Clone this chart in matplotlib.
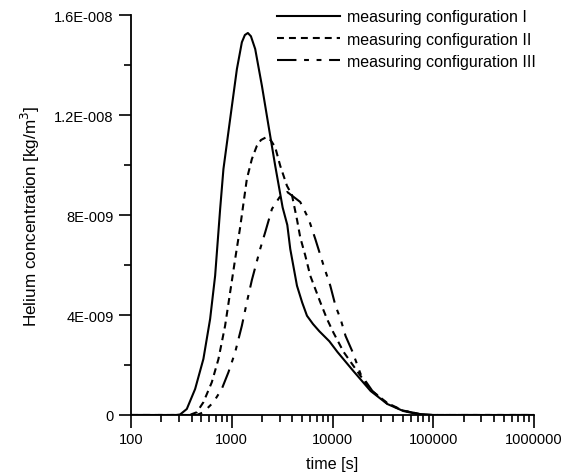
import numpy as np
import matplotlib
matplotlib.use("Agg")
import matplotlib.pyplot as plt
from matplotlib.ticker import LogLocator, FuncFormatter, FixedLocator, MultipleLocator

plt.rcParams['font.family'] = ['Liberation Sans', 'DejaVu Sans']
plt.rcParams['font.size'] = 10.5
plt.rcParams['lines.scale_dashes'] = False

# values (time in s, concentration in 1E-009 kg/m3)
t_I = [100, 280, 307, 358, 433, 523, 610, 684, 767, 827, 964, 1125, 1260, 1350, 1445,
       1550, 1709, 1992, 2317, 2700, 3200, 3560, 3808, 4440, 5000, 5580, 6400, 7400,
       9300, 11200, 16100, 23900, 35000, 50400, 69000, 100000, 1000000]
c_I = [0, 0, 0.02, 0.24, 1.04, 2.24, 3.84, 5.57, 8.24, 9.84, 11.84, 13.84, 14.91, 15.2,
       15.28, 15.15, 14.64, 13.17, 11.57, 9.97, 8.3, 7.6, 6.64, 5.17, 4.5, 3.97, 3.64,
       3.35, 2.95, 2.52, 1.76, 0.96, 0.44, 0.16, 0.04, 0, 0]

t_II = [100, 380, 450, 523, 634, 738, 859, 964, 1081, 1211, 1412, 1584, 1776, 1950,
        2197, 2450, 2700, 3027, 3530, 3958, 4450, 4786, 5350, 6017, 7570, 8820, 10200,
        12900, 17800, 24000, 35000, 50000, 75000, 100000, 1000000]
c_II = [0, 0, 0.11, 0.51, 1.31, 2.24, 3.57, 4.91, 6.24, 7.5, 9.44, 10.24, 10.77, 11.0,
        11.11, 10.98, 10.71, 9.97, 9.17, 8.8, 7.8, 7.1, 6.4, 5.57, 4.51, 3.84, 3.3,
        2.52, 1.72, 1.0, 0.48, 0.18, 0.03, 0, 0]

t_III = [100, 450, 523, 658, 796, 927, 1081, 1260, 1412, 1584, 1914, 2148, 2505, 2980,
         3556, 4786, 5800, 6750, 8170, 9510, 10720, 12020, 13480, 15830, 19000, 25000,
         35000, 50000, 75000, 100000, 1000000]
c_III = [0, 0, 0.11, 0.51, 1.04, 1.71, 2.51, 3.57, 4.51, 5.4, 6.64, 7.31, 8.24, 8.71,
         8.92, 8.52, 7.84, 7.04, 5.97, 5.17, 4.36, 3.84, 3.16, 2.52, 1.64, 0.95,
         0.45, 0.18, 0.03, 0, 0]

labels = ["measuring configuration I", "measuring configuration II",
          "measuring configuration III"]

fig = plt.figure(figsize=(5.76, 4.77), dpi=100)
ax = fig.add_axes([131 / 576, 1 - 416 / 477, 403 / 576, 400 / 477])

ax.plot(t_I, np.array(c_I) * 1e-9, color='black', lw=1.5, label=labels[0])
ax.plot(t_II, np.array(c_II) * 1e-9, color='black', lw=1.5, dashes=(5, 3.6),
        label=labels[1])
ax.plot(t_III, np.array(c_III) * 1e-9, color='black', lw=1.5,
        dashes=(14, 5.5, 3.5, 5.5, 3.5, 5.5), label=labels[2])

ax.set_xscale('log')
ax.set_xlim(100, 1e6)
ax.set_ylim(0, 1.6e-8)

for s in ['top', 'right']:
    ax.spines[s].set_visible(False)
for s in ['left', 'bottom']:
    ax.spines[s].set_linewidth(1.3)

ax.xaxis.set_major_locator(FixedLocator([1e2, 1e3, 1e4, 1e5, 1e6]))
ax.xaxis.set_major_formatter(FuncFormatter(lambda v, p: f"{int(round(v))}"))
ax.xaxis.set_minor_locator(LogLocator(base=10, subs=np.arange(2, 10)))

yticks = [0, 4e-9, 8e-9, 1.2e-8, 1.6e-8]
ylabels = ["0", "4E-009", "8E-009", "1.2E-008", "1.6E-008"]
ax.set_yticks(yticks)
ax.set_yticklabels(ylabels)
ax.yaxis.set_minor_locator(MultipleLocator(2e-9))

ax.tick_params(which='major', direction='out', length=9, width=1.2)
ax.tick_params(which='minor', direction='out', length=5, width=1.2)

ax.set_xlabel("time [s]", fontsize=11.6, labelpad=7)
ax.set_ylabel("Helium concentration [kg/m$^3$]", fontsize=12.3, labelpad=9)

ax.legend(loc='upper right', frameon=False, fontsize=11.5, handlelength=3.9,
          handletextpad=0.45, labelspacing=0.45, borderaxespad=0,
          bbox_to_anchor=(1.02, 1.03))

fig.savefig("out.png", dpi=100)
